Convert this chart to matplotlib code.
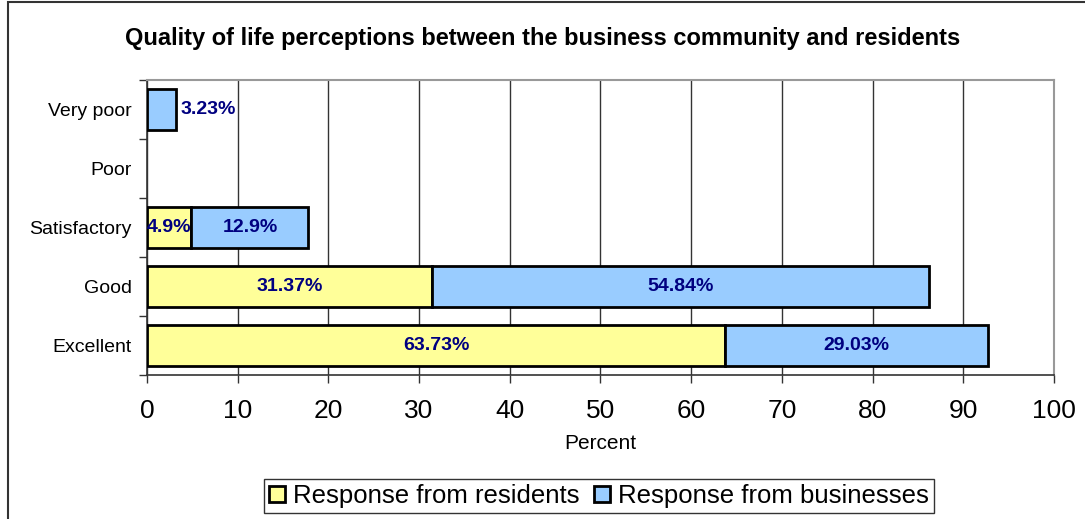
import matplotlib
matplotlib.use("Agg")
import matplotlib.pyplot as plt
from matplotlib.patches import Rectangle
import numpy as np

plt.rcParams['font.family'] = ['Liberation Sans', 'DejaVu Sans']

categories = ['Excellent', 'Good', 'Satisfactory', 'Poor', 'Very poor']
residents = [63.73, 31.37, 4.9, 0, 0]
businesses = [29.03, 54.84, 12.9, 0, 3.23]
x_ticks = [0, 10, 20, 30, 40, 50, 60, 70, 80, 90, 100]

yellow = '#FFFF99'
blue = '#99CCFF'
label_color = '#000080'

fig = plt.figure(figsize=(10.85, 5.19), dpi=100)
ax = fig.add_axes([0.1355, 0.2775, 0.8359, 0.5684])

y = np.arange(len(categories))
h = 0.7
b1 = ax.barh(y, residents, height=h, color=yellow, edgecolor='black',
             linewidth=2, label='Response from residents', zorder=3)
b2 = ax.barh(y, businesses, left=residents, height=h, color=blue,
             edgecolor='black', linewidth=2, label='Response from businesses',
             zorder=3)

# value labels, hidden for empty segments
for bars, vals, lefts in [(b1, residents, [0] * len(residents)),
                          (b2, businesses, residents)]:
    for bar, v, l in zip(bars, vals, lefts):
        if v == 0:
            continue
        txt = f'{v:g}%'
        cy = bar.get_y() + bar.get_height() / 2
        if v < 4:
            ax.text(l + v + 0.5, cy, txt, ha='left', va='center',
                    color=label_color, fontsize=14, fontweight='bold', zorder=4)
        else:
            ax.text(l + v / 2, cy, txt, ha='center', va='center',
                    color=label_color, fontsize=14, fontweight='bold', zorder=4)

for bar in list(b1) + list(b2):
    bar.set_visible(bar.get_width() > 0)

ax.set_xlim(0, 100)
ax.set_ylim(-0.5, len(categories) - 0.5)
ax.set_xticks(x_ticks)
ax.set_xticklabels([str(t) for t in x_ticks], fontsize=19)
ax.set_yticks(y)
ax.set_yticklabels(categories, fontsize=14)
ax.set_yticks(np.arange(-0.5, len(categories)), minor=True)
ax.tick_params(axis='y', which='major', length=0, pad=11)
ax.tick_params(axis='y', which='minor', length=6, width=1, color='#333333')
ax.tick_params(axis='x', length=6, width=1, color='#333333', pad=11)

ax.grid(axis='x', color='#333333', linewidth=1, zorder=0)
ax.set_axisbelow(True)
for side in ['top', 'right']:
    ax.spines[side].set_color('#999999')
    ax.spines[side].set_linewidth(1.5)
for side in ['left', 'bottom']:
    ax.spines[side].set_color('#333333')
    ax.spines[side].set_linewidth(1.2)

ax.set_xlabel('Percent', fontsize=15, labelpad=8)
fig.text(0.5, 0.926, 'Quality of life perceptions between the business community and residents',
         ha='center', va='center', fontsize=17, fontweight='bold')

leg = fig.legend(handles=[b1, b2], loc='center', bbox_to_anchor=(0.552, 0.044),
                 ncol=2, fontsize=18.5, frameon=True, fancybox=False,
                 handlelength=0.6, handleheight=0.6, handletextpad=0.3,
                 columnspacing=0.6, borderpad=0.2)
leg.get_frame().set_edgecolor('black')
leg.get_frame().set_linewidth(1)

# outer chart frame
fig.patches.append(Rectangle((0.0074, -0.1), 1.2, 1.096, transform=fig.transFigure,
                             fill=False, edgecolor='#333333', linewidth=1.5))

fig.savefig('out.png', dpi=100)
